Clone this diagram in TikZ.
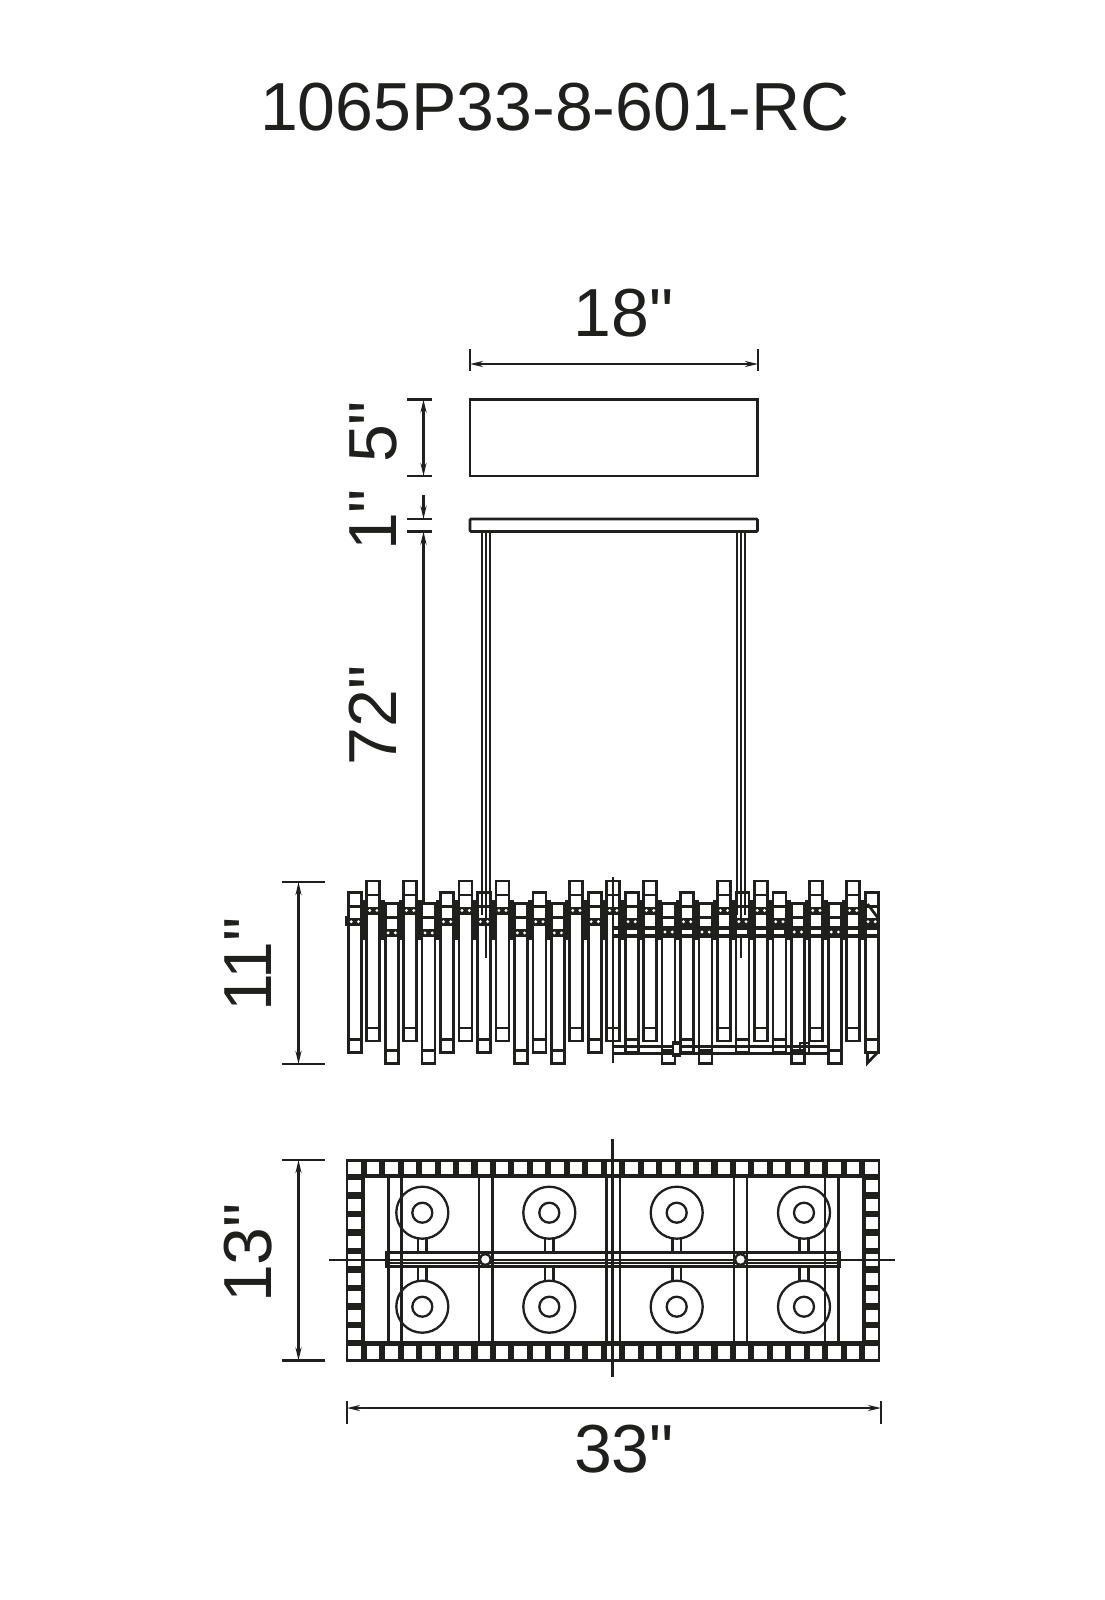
\documentclass[tikz,border=0pt]{standalone}
\usepackage{fontspec}
\usetikzlibrary{arrows.meta}
\newfontfamily\labelfont{Liberation Sans}
\definecolor{ink}{HTML}{1F1F1D}
\tikzset{
  label text/.style={font=\labelfont\fontsize{68}{68}\selectfont,text=ink,inner sep=0pt,anchor=base},
  lineart/.style={draw=ink,line width=2.7pt},
  roundart/.style={draw=ink,line width=2.3pt},
  thinart/.style={draw=ink,line width=2pt},
  dimline/.style={draw=ink,line width=2.2pt},
  dimarrows/.style={dimline,{Stealth[length=13pt,width=6pt]}-{Stealth[length=13pt,width=6pt]}},
  dimtip/.style={dimline,-{Stealth[length=13pt,width=6pt]}},
  tick/.style={draw=ink,line width=2.7pt},
  solid ink/.style={fill=ink,draw=none},
  hole/.style={fill=white,draw=none}
}
\begin{document}
\begin{tikzpicture}[x=1pt,y=-1pt]
\useasboundingbox (0,0) rectangle (1104,1600);
% labels
\node[label text] (title) at (555,130.5) {1065P33-8-601-RC};
\node[label text] (t18) at (623.5,336) {18"};
\node[label text,rotate=90] (t5) at (396.5,432) {5"};
\node[label text,rotate=90] (t1) at (396.5,520) {1"};
\node[label text,rotate=90] (t72) at (396.5,715.5) {72"};
\node[label text,rotate=90] (t11) at (271.5,964.5) {11"};
\node[label text,rotate=90] (t13) at (271.5,1253) {13"};
\node[label text] (t33) at (624,1472) {33"};
% canopy and plate
\draw[lineart] (470,399.5) rectangle (757.5,476);
\draw[lineart,rounded corners=1pt] (470,519) rectangle (757.5,531.5);
% suspension stems, upper part
\foreach \sx in {481.5,485.5,489.5,737,741,745}{
  \draw[thinart] (\sx,531.5) -- (\sx,915);
}
\draw[thinart] (485.5,915) -- (485.5,958);
\draw[thinart] (741,915) -- (741,958);
% dark gaps between the tubes
\foreach \i in {0,...,27}{
  \pgfmathsetmacro{\xa}{347.3+18.46*\i+14.5}
  \pgfmathsetmacro{\xb}{\xa+4.5}
  \fill[solid ink] (\xa,900) rectangle (\xb,940);
}
% tubes: index / level (0 high, 1 middle, 2 low)
\foreach \i/\k in {0/1,1/0,2/2,3/0,4/2,5/1,6/0,7/1,8/0,9/2,10/1,11/2,12/0,13/1,14/0,15/1,16/0,17/2,18/1,19/2,20/0,21/1,22/0,23/1,24/2,25/0,26/2,27/0,28/1}{
  \pgfmathsetmacro{\xl}{348.3+18.46*\i}
  \pgfmathsetmacro{\xr}{\xl+13}
  \pgfmathsetmacro{\tp}{881+11.2*\k}
  \pgfmathsetmacro{\bt}{\tp+160}
  \draw[lineart] (\xl,\tp) rectangle (\xr,\bt);
  \draw[lineart] (\xl,\tp+14) -- (\xr,\tp+14);
  \draw[lineart] (\xl,\bt-13) -- (\xr,\bt-13);
  \fill[solid ink] (\xl,\tp+25.5) rectangle (\xr,\tp+33.5);
  \fill[hole] (\xl+2.9,\tp+29.5) circle (1.6);
  \fill[hole] (\xl+10.1,\tp+29.5) circle (1.6);
}
% rail on the right half
\fill[solid ink] (612,925.5) rectangle (880,938);
\foreach \i/\k in {14/0,15/1,16/0,17/2,18/1,19/2,20/0,21/1,22/0,23/1,24/2,25/0,26/2,27/0,28/1}{
  \pgfmathsetmacro{\xl}{348.3+18.46*\i}
  \ifnum\k=2
    \fill[hole] (\xl+2.9,932) circle (1.6);
    \fill[hole] (\xl+10.1,932) circle (1.6);
  \else
    \fill[hole] (\xl+1.5,930) rectangle (\xl+11.5,934);
  \fi
}
% bottom rail on the right half
\draw[lineart] (613,1046.7) -- (830,1046.7);
\draw[lineart] (613,1053.3) -- (830,1053.3);
\draw[lineart] (613,876.5) -- (613,1063);
\fill[solid ink] (672,1041) rectangle (681,1057);
\fill[hole] (674,1045) rectangle (679,1053);
\draw[lineart] (800,1043) rectangle (809,1054);
% slanted end piece
\draw[lineart] (878,1052) -- (867.5,1063) -- (867.5,1052);
\draw[lineart] (867.5,904) -- (878,918);
\fill[solid ink] (345,916) rectangle (347.5,925.5);
% top view frame
\fill[solid ink] (345.7,1159) rectangle (880,1178);
\fill[solid ink] (345.7,1341) rectangle (880,1361.7);
\fill[solid ink] (345.7,1159) rectangle (365,1361.7);
\fill[solid ink] (861.7,1159) rectangle (880,1361.7);
\foreach \i in {0,...,28}{
  \pgfmathsetmacro{\xl}{348.3+18.46*\i}
  \fill[hole] (\xl,1161.7) rectangle (\xl+12.4,1174);
  \fill[hole] (\xl,1345.5) rectangle (\xl+12.4,1358.8);
}
\foreach \j in {0,...,8}{
  \pgfmathsetmacro{\yl}{1180+18.5*\j}
  \fill[hole] (348.3,\yl) rectangle (360.7,\yl+12.4);
  \fill[hole] (865.8,\yl) rectangle (878.2,\yl+12.4);
}
% top view inner verticals
\foreach \vx in {388.7,401.3,479,492.3,606.7,620,734,747,825,838.3}{
  \draw[lineart] (\vx,1178) -- (\vx,1341);
}
% centre lines
\draw[lineart] (612.7,1139) -- (612.7,1377);
\draw[thinart] (329,1260) -- (894.5,1260);
% top view rail
\draw[lineart] (386,1252.7) rectangle (840,1266.7);
\draw[thinart] (386,1263) -- (840,1263);
% lamp holders
\foreach \cx in {422.3,549.3,676.7,804}{
  \foreach \cy in {1212.7,1306.7}{
    \draw[roundart] (\cx,\cy) circle (26);
    \draw[roundart] (\cx,\cy) circle (10);
  }
  \draw[lineart] (\cx-4.3,1238.7) -- (\cx-4.3,1252.7);
  \draw[lineart] (\cx+4.3,1238.7) -- (\cx+4.3,1252.7);
  \draw[lineart] (\cx-4.3,1266.7) -- (\cx-4.3,1280.7);
  \draw[lineart] (\cx+4.3,1266.7) -- (\cx+4.3,1280.7);
}
% rail joints
\foreach \jx in {485.3,740.5}{
  \fill[hole] (\jx,1259.5) circle (6);
  \draw[roundart] (\jx,1259.5) circle (5.5);
  \fill[hole] (\jx,1259.5) circle (2.5);
}
% dimension lines
\coordinate (a18) at (470,364);
\coordinate (b18) at (758,364);
\draw[tick] (470,349) -- (a18) -- (470,371);
\draw[tick] (758,349) -- (b18) -- (758,371);
\draw[dimarrows] (a18) -- (b18);
\coordinate (a5) at (423.5,399.5);
\coordinate (b5) at (423.5,476);
\coordinate (c1) at (423.5,519);
\coordinate (d1) at (423.5,531.5);
\coordinate (e1) at (423.5,495);
\coordinate (f72) at (423.5,903);
\foreach \ty in {399.5,476,519,531.5}{
  \draw[tick] (407,\ty) -- (432,\ty);
}
\draw[dimarrows] (a5) -- (b5);
\draw[dimtip] (e1) -- (c1);
\draw[dimtip] (f72) -- (d1);
\coordinate (a11) at (298.5,882);
\coordinate (b11) at (298.5,1064);
\draw[tick] (282,882) -- (325,882);
\draw[tick] (282,1064) -- (325,1064);
\draw[dimarrows] (a11) -- (b11);
\coordinate (a13) at (298.5,1160);
\coordinate (b13) at (298.5,1360.5);
\draw[tick] (282,1160) -- (325,1160);
\draw[tick] (282,1360.5) -- (325,1360.5);
\draw[dimarrows] (a13) -- (b13);
\coordinate (a33) at (347,1408);
\coordinate (b33) at (881,1408);
\draw[tick] (347,1401) -- (347,1424);
\draw[tick] (881,1401) -- (881,1424);
\draw[dimarrows] (a33) -- (b33);
\end{tikzpicture}
\end{document}
